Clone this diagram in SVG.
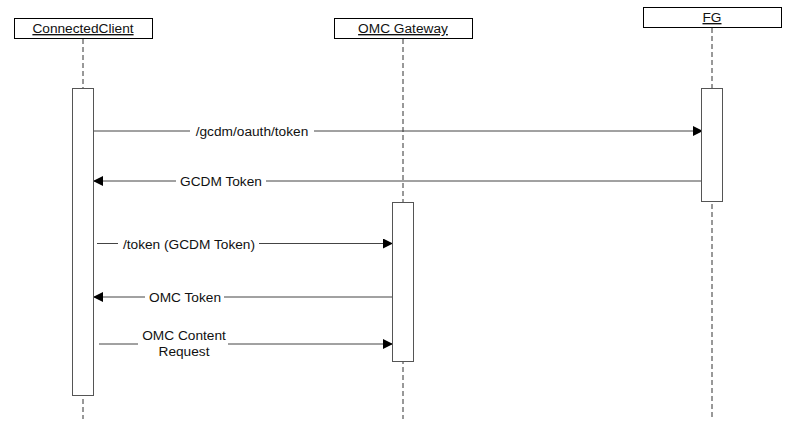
<svg xmlns="http://www.w3.org/2000/svg" width="800" height="436" viewBox="0 0 800 436">
<defs>
<marker id="arr" markerWidth="10" markerHeight="10" refX="9" refY="5" orient="auto" markerUnits="userSpaceOnUse">
<path d="M0,0 L10,5 L0,10 Z" fill="#000"/>
</marker>
<style>
.box{fill:#fff;stroke:#000;stroke-width:1}
.act{fill:#fff;stroke:#555;stroke-width:1}
.life{stroke:#333;stroke-width:1;stroke-dasharray:5,3;fill:none}
.msg{stroke:#444;stroke-width:1;fill:none}
.t{font-family:"Liberation Sans",Arial,sans-serif;font-size:13.7px;fill:#111;text-anchor:middle}
.u{text-decoration:underline}
.lbg{fill:#fff}
</style>
</defs>
<rect width="800" height="436" fill="#fff"/>
<g id="connectors">
<line class="msg" x1="94" y1="131" x2="702" y2="131" marker-end="url(#arr)"/>
<rect class="lbg" x="190" y="123" width="124" height="16"/>
<text class="t" x="252" y="136">/gcdm/oauth/token</text>
<line class="msg" x1="702" y1="181" x2="94" y2="181" marker-end="url(#arr)"/>
<rect class="lbg" x="176" y="173" width="90" height="16"/>
<text class="t" x="221" y="186">GCDM Token</text>
<line class="msg" x1="97" y1="243.5" x2="392" y2="243.5" marker-end="url(#arr)"/>
<rect class="lbg" x="118" y="235" width="141" height="16"/>
<text class="t" x="189" y="248.5">/token (GCDM Token)</text>
<line class="msg" x1="392" y1="297" x2="94" y2="297" marker-end="url(#arr)"/>
<rect class="lbg" x="145" y="289" width="79" height="16"/>
<text class="t" x="185" y="302">OMC Token</text>
<line class="msg" x1="99" y1="344" x2="392" y2="344" marker-end="url(#arr)"/>
<rect class="lbg" x="138" y="326" width="90" height="34"/>
<text class="t" x="184" y="340">OMC Content</text>
<text class="t" x="184" y="356">Request</text>
</g>
<g id="ConnectedClient">
<rect class="box" x="14.5" y="18.5" width="138" height="20"/>
<text class="t u" x="83" y="33">ConnectedClient</text>
<line class="life" x1="83" y1="39" x2="83" y2="419"/>
<rect class="act" x="72.5" y="88.5" width="21" height="307"/>
</g>
<g id="OMCGateway">
<rect class="box" x="334.5" y="18.5" width="138" height="20"/>
<text class="t u" x="403" y="33">OMC Gateway</text>
<line class="life" x1="403" y1="39" x2="403" y2="419"/>
<rect class="act" x="392.5" y="202.5" width="21" height="159"/>
</g>
<g id="FG">
<rect class="box" x="643.5" y="7.5" width="138" height="20"/>
<text class="t u" x="712" y="22">FG</text>
<line class="life" x1="712" y1="28" x2="712" y2="419"/>
<rect class="act" x="701.5" y="88.5" width="21" height="113"/>
</g>
</svg>
